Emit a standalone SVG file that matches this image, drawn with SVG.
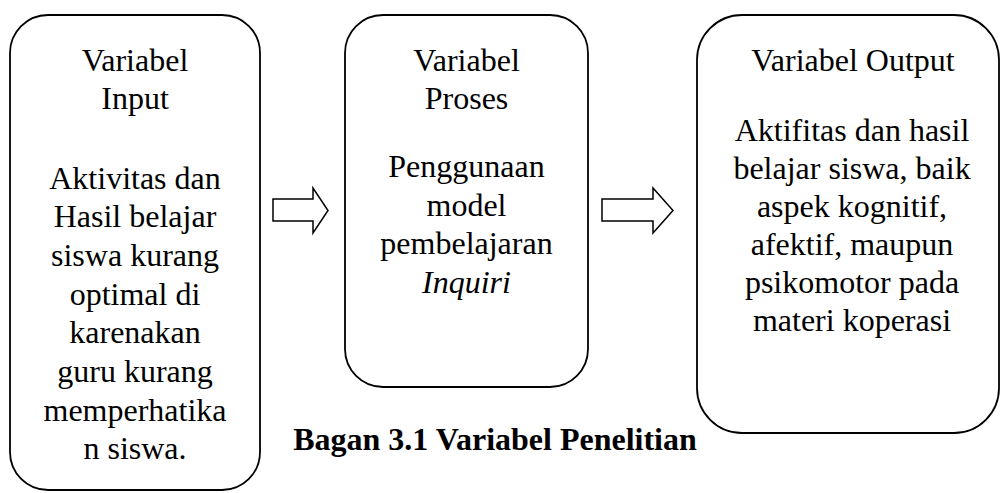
<svg xmlns="http://www.w3.org/2000/svg" width="1001" height="493" viewBox="0 0 1001 493">
<style>
.box{fill:#fff;stroke:#000;stroke-width:1.8}
.t{font-size:32px;fill:#000;text-anchor:middle}
.cap{font-size:32px;font-weight:bold;fill:#000;text-anchor:middle}
.arr{fill:#fff;stroke:#000;stroke-width:1.5;stroke-linejoin:miter}
</style>
<rect width="1001" height="493" fill="#fff"/>
<g font-family="Liberation Serif, Times New Roman, DejaVu Serif, serif">
<g id="input">
<rect class="box" x="10" y="15" width="250" height="475" rx="38" ry="38"/>
<text class="t" x="135" y="71">Variabel</text>
<text class="t" x="135" y="109">Input</text>
<text class="t" x="135" y="188.5">Aktivitas dan</text>
<text class="t" x="135" y="227.2">Hasil belajar</text>
<text class="t" x="135" y="265.9">siswa kurang</text>
<text class="t" x="135" y="304.6">optimal di</text>
<text class="t" x="135" y="343.3">karenakan</text>
<text class="t" x="135" y="382">guru kurang</text>
<text class="t" x="135" y="420.7">memperhatika</text>
<text class="t" x="135" y="459.4">n siswa.</text>
</g>
<g id="proses">
<rect class="box" x="345" y="15" width="243" height="372" rx="38" ry="38"/>
<text class="t" x="466.5" y="71">Variabel</text>
<text class="t" x="466.5" y="109">Proses</text>
<text class="t" x="466.5" y="177">Penggunaan</text>
<text class="t" x="466.5" y="215.7">model</text>
<text class="t" x="466.5" y="254.4">pembelajaran</text>
<text class="t" x="466.5" y="293" font-style="italic">Inquiri</text>
</g>
<g id="output">
<rect class="box" x="697" y="15" width="302" height="418" rx="45" ry="45"/>
<text class="t" x="853" y="71">Variabel Output</text>
<text class="t" x="852" y="141">Aktifitas dan hasil</text>
<text class="t" x="852" y="179">belajar siswa, baik</text>
<text class="t" x="852" y="217">aspek kognitif,</text>
<text class="t" x="852" y="255">afektif, maupun</text>
<text class="t" x="852" y="293">psikomotor pada</text>
<text class="t" x="852" y="331">materi koperasi</text>
</g>
<g id="connectors">
<polygon class="arr" points="273,199 313,199 313,188 328,210.5 313,233 313,221 273,221"/>
<polygon class="arr" points="602,199 653,199 653,188 673,210.5 653,233 653,221 602,221"/>
</g>
<g id="caption">
<text class="cap" x="495" y="450">Bagan 3.1 Variabel Penelitian</text>
</g>
</g>
</svg>
